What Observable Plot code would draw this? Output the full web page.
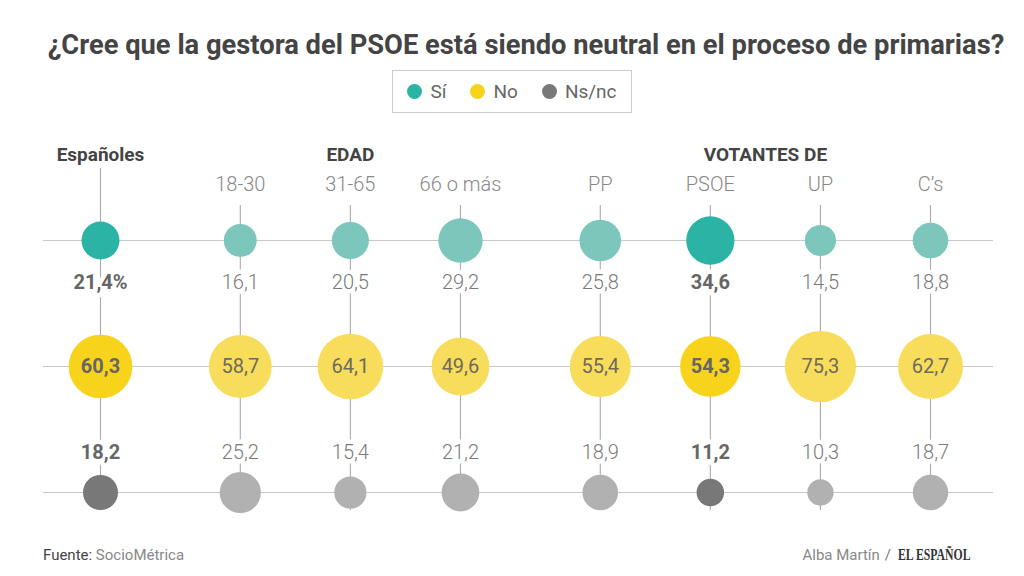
<!DOCTYPE html>
<html>
<head>
<meta charset="utf-8">
<script src="https://cdn.jsdelivr.net/npm/d3@7"></script>
<script src="https://cdn.jsdelivr.net/npm/@observablehq/plot@0.6"></script>
<style>
  html, body { margin: 0; padding: 0; background: #fff; }
  body { width: 1024px; height: 576px; overflow: hidden; font-family: Roboto, "Noto Sans", sans-serif; }
  #head { position: relative; height: 120px; }
  #title { position: absolute; top: 28px; left: 14px; width: 1024px; text-align: center;
           font-weight: 700; font-size: 27.3px; line-height: 34px; color: #444; }
  #legend { position: absolute; left: 392px; top: 70px; width: 238px; height: 41px;
            border: 1px solid #ccc; display: flex; align-items: center; justify-content: center;
            font-size: 19px; color: #666; }
  #legend .item { display: flex; align-items: center; margin: 0 12px; }
  #legend .sw { width: 15px; height: 15px; border-radius: 50%; margin-right: 8px; }
  #chart svg { display: block; }
  #foot { position: relative; height: 46px; font-size: 15px; }
  #src { position: absolute; left: 43px; top: 16px; color: #888; }
  #src b { font-weight: 400; color: #444; }
  #credit { position: absolute; right: 50px; top: 15px; color: #888; white-space: nowrap; display: flex; align-items: baseline; }
  #credit .slash { margin-left: 5px; color: #777; }
  #credit .wrap { display: inline-block; width: 76px; margin-left: 7px; }
  #credit .brand { display: inline-block; transform: scaleX(0.69); transform-origin: left center; white-space: nowrap;
                   font-family: "Liberation Serif", "DejaVu Serif", serif; font-weight: 700; color: #333;
                   font-size: 17px; }
</style>
</head>
<body>
<div id="head">
  <div id="title">¿Cree que la gestora del PSOE está siendo neutral en el proceso de primarias?</div>
  <div id="legend"></div>
</div>
<div id="chart"></div>
<div id="foot">
  <div id="src"><b>Fuente:</b> SocioMétrica</div>
  <div id="credit"><span>Alba Martín</span><span class="slash">/</span><span class="wrap"><span class="brand">EL ESPAÑOL</span></span></div>
</div>
<script>
// ---- data ----
const columns = ["Españoles", "18-30", "31-65", "66 o más", "PP", "PSOE", "UP", "C’s"];
const columnGroup = [0, 1, 1, 1, 2, 2, 2, 2];
const groupNames = ["Españoles", "EDAD", "VOTANTES DE"];
const answers = ["Sí", "No", "Ns/nc"];
const si = [21.4, 16.1, 20.5, 29.2, 25.8, 34.6, 14.5, 18.8];
const no = [60.3, 58.7, 64.1, 49.6, 55.4, 54.3, 75.3, 62.7];
const nsnc = [18.2, 25.2, 15.4, 21.2, 18.9, 11.2, 10.3, 18.7];
const highlighted = ["Españoles", "PSOE"];

// ---- styles ----
const colors = {
  "Sí": {hl: "#2bb3a6", base: "#7cc6bb"},
  "No": {hl: "#f7d31c", base: "#f8dc5c"},
  "Ns/nc": {hl: "#787878", base: "#b1b1b1"}
};
const groupGap = 0.27;
const FS = 20;

// legend
const legend = document.getElementById("legend");
answers.forEach(a => {
  const it = document.createElement("div");
  it.className = "item";
  it.innerHTML = `<span class="sw" style="background:${colors[a].hl}"></span><span>${a}</span>`;
  legend.appendChild(it);
});

// table
const cols = columns.map((c, i) => ({col: c, pos: i + groupGap * columnGroup[i], group: columnGroup[i], hl: highlighted.includes(c)}));
const series = {"Sí": si, "No": no, "Ns/nc": nsnc};
const rows = [];
cols.forEach((c, i) => {
  answers.forEach(a => {
    const v = series[a][i];
    let label = v.toFixed(1).replace(".", ",");
    if (i === 0 && a === "Sí") label += "%";
    rows.push({...c, answer: a, value: v, label});
  });
});
const groups = groupNames.map((g, gi) => {
  const ps = cols.filter(c => c.group === gi).map(c => c.pos);
  return {name: g, pos: d3.mean(ps)};
});

const fillOf = d => d.hl ? colors[d.answer].hl : colors[d.answer].base;
const maxPos = d3.max(cols, c => c.pos);
const maxVal = d3.max(rows, d => d.value);

const labelOpts = {x: "pos", y: "answer", text: "label", fontSize: FS, stroke: "white", strokeWidth: 9, paintOrder: "stroke"};

const plot = Plot.plot({
  width: 1024,
  height: 410,
  marginLeft: 43,
  marginRight: 31,
  marginTop: 0,
  marginBottom: 0,
  style: {fontFamily: "Roboto, sans-serif", background: "white"},
  x: {type: "linear", domain: [0, maxPos], range: [100, 930], axis: null},
  y: {type: "point", domain: answers, range: [120, 372], padding: 0, axis: null},
  r: {type: "sqrt", domain: [0, maxVal], range: [0, 35.6]},
  marks: [
    Plot.ruleY(answers, {y: d => d, stroke: "#c8c8c8", strokeWidth: 1.2}),
    Plot.ruleX(cols.filter(c => c.group === 0), {x: "pos", y1: () => "Sí", y2: () => "Ns/nc", insetTop: -72, insetBottom: -18, stroke: "#aaa", strokeWidth: 1.1}),
    Plot.ruleX(cols.filter(c => c.group !== 0), {x: "pos", y1: () => "Sí", y2: () => "Ns/nc", insetTop: -35, insetBottom: -18, stroke: "#aaa", strokeWidth: 1.1}),
    Plot.dot(rows, {x: "pos", y: "answer", r: "value", fill: fillOf, stroke: null}),
    // Sí labels
    Plot.text(rows.filter(d => d.answer === "Sí" && !d.hl), {...labelOpts, dy: 42, fill: "#7a7a7a", fontWeight: 300}),
    Plot.text(rows.filter(d => d.answer === "Sí" && d.hl), {...labelOpts, dy: 42, fill: "#666", fontWeight: 700}),
    // No labels (inside)
    Plot.text(rows.filter(d => d.answer === "No" && !d.hl), {x: "pos", y: "answer", text: "label", fontSize: FS, fill: "#6e6b5c"}),
    Plot.text(rows.filter(d => d.answer === "No" && d.hl), {x: "pos", y: "answer", text: "label", fontSize: FS, fill: "#666", fontWeight: 700}),
    // Ns/nc labels
    Plot.text(rows.filter(d => d.answer === "Ns/nc" && !d.hl), {...labelOpts, dy: -40, fill: "#7a7a7a", fontWeight: 300}),
    Plot.text(rows.filter(d => d.answer === "Ns/nc" && d.hl), {...labelOpts, dy: -40, fill: "#666", fontWeight: 700}),
    // column labels
    Plot.text(cols.filter(c => c.group !== 0), {x: "pos", y: () => "Sí", text: "col", dy: -56, fontSize: FS, fontWeight: 300, fill: "#888"}),
    // group headers
    Plot.text(groups, {x: "pos", y: () => "Sí", text: "name", dy: -86, fontSize: 19, fontWeight: 700, fill: "#444"})
  ]
});
document.getElementById("chart").appendChild(plot);
</script>
</body>
</html>
